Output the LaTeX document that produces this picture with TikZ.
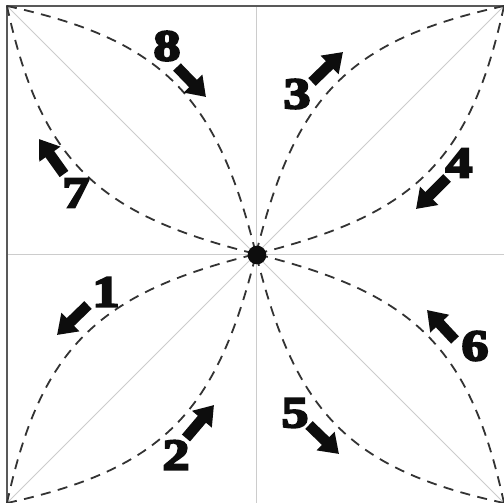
\documentclass[tikz,border=0pt]{standalone}
\usepackage{fontspec}
\setmainfont{Liberation Serif}[BoldFeatures={FakeBold=4.5}]
\usetikzlibrary{arrows.meta}
\tikzset{
  gridline/.style={draw=black!20,line width=0.7pt},
  frameline/.style={draw=black!65,line width=1.7pt},
  petal/.style={draw=black!80,line width=1.35pt,dash pattern=on 7.5pt off 5.6pt},
  flow/.style={draw=black!95,line width=8pt,-{Triangle[length=14pt,width=18.5pt]}},
  digit/.style={font=\fontsize{33}{33}\selectfont\bfseries,inner sep=0pt,text=black!95,xscale=1.22},
  hub/.style={circle,fill=black!95,minimum size=14pt,inner sep=0pt}
}
\begin{document}
\begin{tikzpicture}[x=0.75pt,y=-0.75pt]
\useasboundingbox (0,0) rectangle (504,503);
\coordinate (tl) at (7,6);
\coordinate (tr) at (504,6);
\coordinate (br) at (504,503);
\coordinate (bl) at (7,503);
\coordinate (c) at (256,254);
\coordinate (t) at (256,6);
\coordinate (b) at (256,503);
\coordinate (l) at (7,254);
\coordinate (r) at (504,254);
\draw[gridline] (t) -- (b);
\draw[gridline] (l) -- (r);
\draw[gridline] (tl) -- (br);
\draw[gridline] (tr) -- (bl);
\draw[frameline] (bl) -- (tl) -- (tr);
\draw[petal] (tl) .. controls (164,40) and (217,97) .. (c);
\draw[petal] (tl) .. controls (41,163) and (99,215) .. (c);
\draw[petal] (tr) .. controls (347,40) and (295,97) .. (c);
\draw[petal] (tr) .. controls (470,163) and (413,215) .. (c);
\draw[petal] (bl) .. controls (41,346) and (99,293) .. (c);
\draw[petal] (bl) .. controls (164,469) and (217,411) .. (c);
\draw[petal] (br) .. controls (470,346) and (413,293) .. (c);
\draw[petal] (br) .. controls (347,469) and (295,411) .. (c);
\node[hub] (dot) at (257,255) {};
\foreach \n/\ax/\ay/\bx/\by/\tx/\ty in {
  8/177/67/206/97/167/46,
  7/64/174/39/139/76/193,
  3/312/82/343/52/297/94,
  4/447/178/416/209/459/163,
  1/88/305/57/335/106/292,
  2/186/438/214/405/176/455,
  5/309/425/339/454/295/413,
  6/455/340/427/310/475/346}{
  \coordinate (a\n) at (\ax,\ay);
  \coordinate (z\n) at (\bx,\by);
  \draw[flow] (a\n) -- (z\n);
  \node[digit] (n\n) at (\tx,\ty) {\n};
}
\end{tikzpicture}
\end{document}
